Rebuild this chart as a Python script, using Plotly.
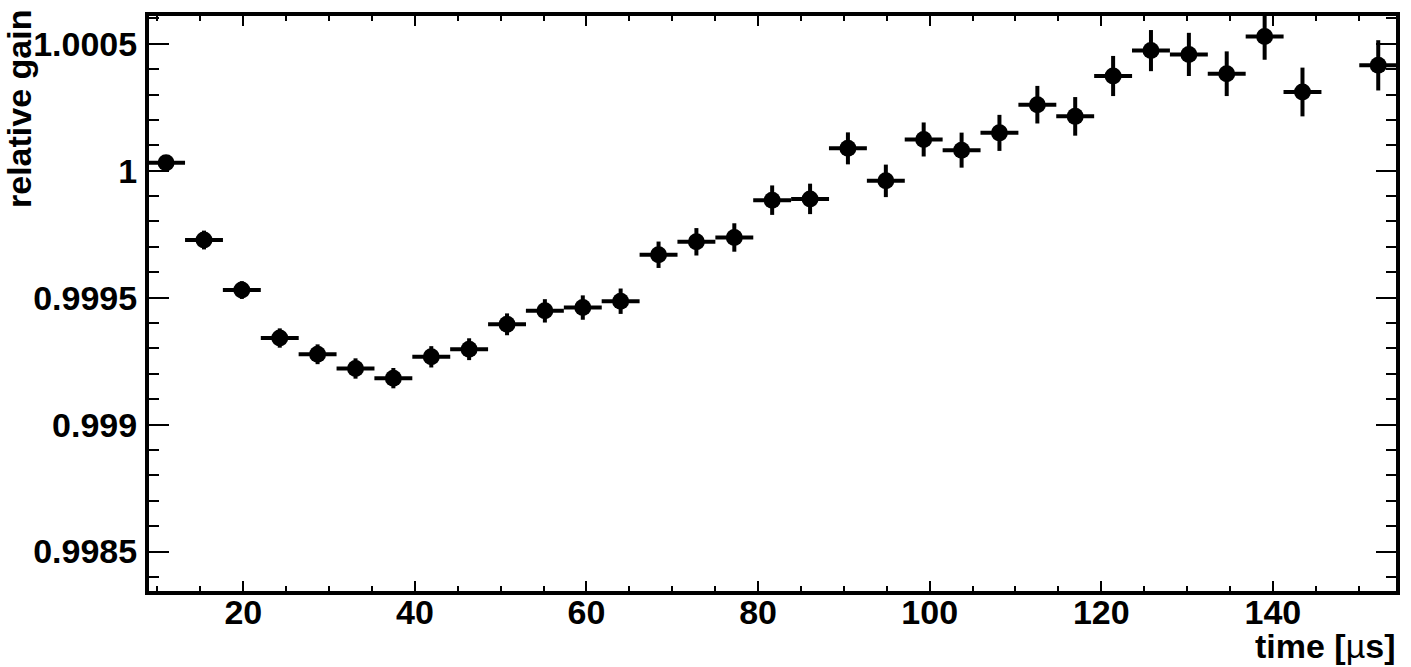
import plotly.graph_objects as go

# ---- data ----
time_us = [11.00, 15.42, 19.83, 24.25, 28.66, 33.08, 37.49, 41.91, 46.32, 50.74,
           55.15, 59.57, 63.98, 68.40, 72.81, 77.23, 81.64, 86.06, 90.47, 94.89,
           99.30, 103.72, 108.13, 112.55, 116.96, 121.38, 125.79, 130.21, 134.62,
           139.04, 143.45, 152.28]
relative_gain = [1.000031, 0.999727, 0.999530, 0.999341, 0.999277, 0.999221, 0.999183,
                 0.999267, 0.999297, 0.999395, 0.999448, 0.999461, 0.999486, 0.999669,
                 0.999720, 0.999737, 0.999884, 0.999889, 1.000088, 0.999960, 1.000123,
                 1.000081, 1.000149, 1.000260, 1.000214, 1.000373, 1.000473, 1.000458,
                 1.000382, 1.000529, 1.000310, 1.000415]
gain_error = [2.6e-5, 3.7e-5, 3.5e-5, 3.8e-5, 3.9e-5, 4.0e-5, 4.0e-5, 4.2e-5, 4.3e-5,
              4.3e-5, 4.6e-5, 4.8e-5, 5.0e-5, 5.2e-5, 5.4e-5, 5.6e-5, 5.8e-5, 6.0e-5,
              6.3e-5, 6.4e-5, 6.7e-5, 6.9e-5, 7.1e-5, 7.4e-5, 7.6e-5, 7.9e-5, 8.1e-5,
              8.5e-5, 8.8e-5, 9.2e-5, 9.6e-5, 9.9e-5]
bin_half_width = 2.21

x_tickvals = [20, 40, 60, 80, 100, 120, 140]
x_ticktext = ["20", "40", "60", "80", "100", "120", "140"]
y_tickvals = [0.9985, 0.999, 0.9995, 1.0, 1.0005]
y_ticktext = ["0.9985", "0.999", "0.9995", "1", "1.0005"]

FONT = "Liberation Sans"
FS = 34

fig = go.Figure()
fig.add_trace(go.Scatter(
    x=time_us, y=relative_gain, mode="markers",
    marker=dict(symbol="circle", size=17, color="black", line=dict(width=0)),
    error_y=dict(type="data", array=gain_error, visible=True, color="black",
                 thickness=4, width=0),
    error_x=dict(type="constant", value=bin_half_width, visible=True, color="black",
                 thickness=4, width=0),
    showlegend=False,
))

axis_common = dict(
    showline=True, linecolor="black", linewidth=4, mirror="allticks",
    ticks="inside", tickcolor="black", tickwidth=2,
    showgrid=False, zeroline=False, automargin=False,
    tickfont=dict(family=FONT, size=FS, color="black", weight="bold"),
)

fig.update_xaxes(
    range=[9.01, 154.35], tickmode="array", tickvals=x_tickvals, ticktext=x_ticktext,
    ticklen=10, ticklabelstandoff=-12,
    minor=dict(ticks="inside", dtick=5, tick0=0, ticklen=5, tickwidth=2,
               tickcolor="black", showgrid=False),
    **axis_common,
)
fig.update_yaxes(
    range=[0.9983447, 1.0006093], tickmode="array", tickvals=y_tickvals,
    ticktext=y_ticktext, ticklen=20, ticklabelstandoff=1,
    minor=dict(ticks="inside", dtick=0.0001, tick0=0.9985, ticklen=10, tickwidth=2,
               tickcolor="black", showgrid=False),
    **axis_common,
)

fig.add_annotation(
    text="relative gain", xref="paper", yref="paper", x=0, y=1,
    xanchor="center", yanchor="top", xshift=-130, yshift=8, textangle=-90,
    showarrow=False, font=dict(family=FONT, size=FS, color="black", weight="bold"),
)
fig.add_annotation(
    text="time [<span style='font-weight:normal'>µ</span>s]", xref="paper", yref="paper",
    x=1, y=0, xanchor="right", yanchor="middle", xshift=2, yshift=-55,
    showarrow=False, font=dict(family=FONT, size=FS, color="black", weight="bold"),
)

fig.update_layout(
    width=1411, height=667,
    margin=dict(l=149, r=15, t=15.5, b=75.5, autoexpand=False),
    paper_bgcolor="white", plot_bgcolor="white",
    font=dict(family=FONT, color="black"),
)

fig.write_html(
    "out.html",
    config={"displayModeBar": False},
    post_script="document.body.style.margin='0';document.body.style.overflow='hidden';",
)
